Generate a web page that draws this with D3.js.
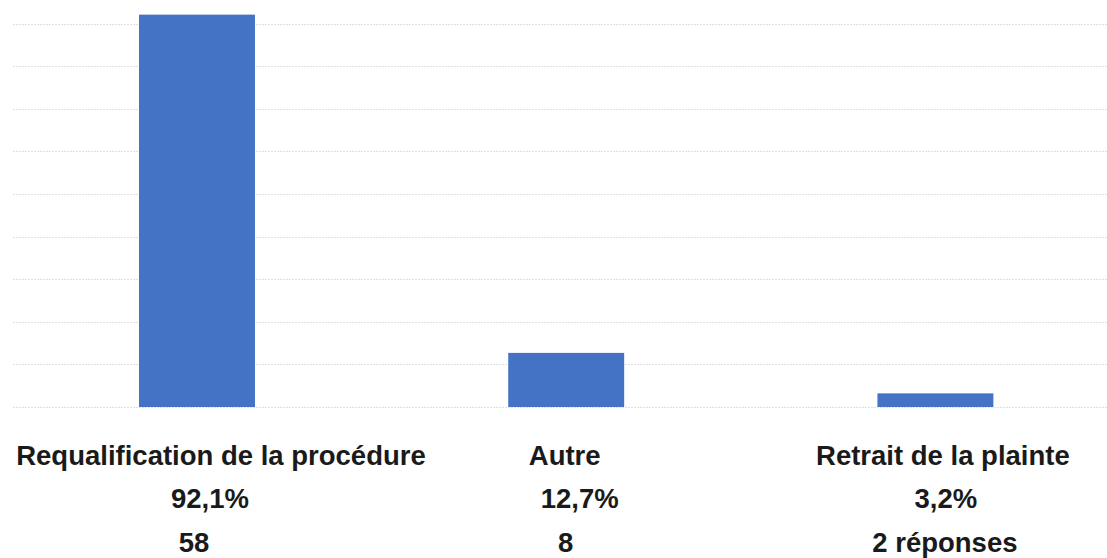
<!DOCTYPE html>
<html>
<head>
<meta charset="utf-8">
<script src="https://cdn.jsdelivr.net/npm/d3@7"></script>
<style>
  html, body { margin: 0; padding: 0; background: #fff; }
  svg { display: block; }
</style>
</head>
<body>
<svg id="chart" width="1107" height="558"></svg>
<script>
// ---- data ----
const categories = ["Requalification de la procédure", "Autre", "Retrait de la plainte"];
const percents = [92.1, 12.7, 3.2];
const percentLabels = ["92,1%", "12,7%", "3,2%"];
const countLabels = ["58", "8", "2 réponses"];
const gridTicks = [0, 10, 20, 30, 40, 50, 60, 70, 80, 90];

// ---- layout ----
const W = 1107, H = 558;
const baseY = 407, topY = 23.6;
const svg = d3.select("#chart");

const x = d3.scaleBand()
  .domain(categories)
  .range([12.4, 1120])
  .paddingInner(0.686)
  .paddingOuter(0.343);

const y = d3.scaleLinear().domain([0, 90]).range([baseY, topY]);

// gridlines
svg.append("g")
  .selectAll("line")
  .data(gridTicks)
  .join("line")
  .attr("x1", 13)
  .attr("x2", W)
  .attr("y1", d => Math.round(y(d)) + 0.5)
  .attr("y2", d => Math.round(y(d)) + 0.5)
  .attr("stroke", "#e0e0e0")
  .attr("stroke-width", 1)
  .attr("stroke-dasharray", "2,1");

// bars
svg.append("g")
  .selectAll("rect")
  .data(categories)
  .join("rect")
  .attr("x", d => x(d))
  .attr("width", x.bandwidth())
  .attr("y", (d, i) => y(percents[i]))
  .attr("height", (d, i) => baseY - y(percents[i]))
  .attr("fill", "#4472C4");

// labels (three lines per category)
const lineBaselines = [465, 508, 552];
const lineDx = [[24, -1.5, 7.5], [13, 13.5, 10.5], [-3, -0.5, 9.5]];
const lines = [categories, percentLabels, countLabels];

const lg = svg.append("g")
  .attr("font-family", "'Liberation Sans', Arial, Helvetica, sans-serif")
  .attr("font-weight", "bold")
  .attr("font-size", 27.5)
  .attr("fill", "#1a1a1a")
  .attr("text-anchor", "middle");

lines.forEach((arr, li) => {
  lg.append("g")
    .selectAll("text")
    .data(arr)
    .join("text")
    .attr("x", (d, i) => x(categories[i]) + x.bandwidth() / 2 + lineDx[li][i])
    .attr("y", lineBaselines[li])
    .text(d => d);
});
</script>
</body>
</html>
